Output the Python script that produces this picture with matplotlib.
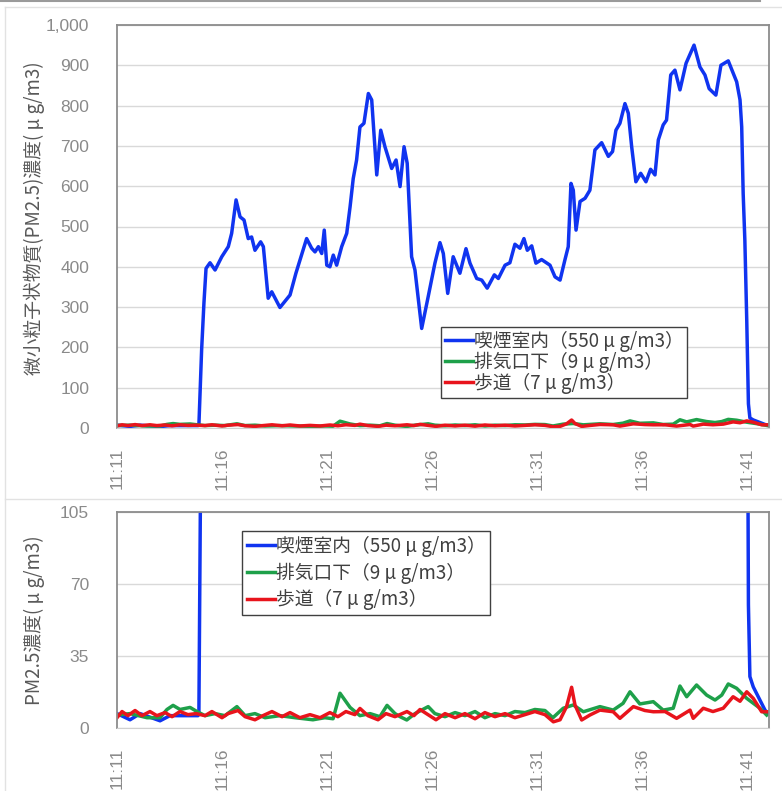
import matplotlib
matplotlib.use('Agg')
import matplotlib.pyplot as plt
from matplotlib.ticker import FuncFormatter
from matplotlib.lines import Line2D

plt.rcParams['font.family'] = ['Noto Sans CJK JP', 'DejaVu Sans']

# 経過時間(分, 11:11起点) と PM2.5濃度(μg/m3)
t_room = [0.00, 0.62, 1.10, 2.05, 2.52, 3.24, 3.86, 3.90, 4.03, 4.14, 4.24, 4.43, 4.67, 4.99,
          5.30, 5.46, 5.67, 5.86, 6.05, 6.25, 6.41, 6.57, 6.84, 6.97, 7.20, 7.37, 7.76, 8.24,
          8.52, 9.03, 9.27, 9.43, 9.59, 9.75, 9.87, 9.99, 10.14, 10.30, 10.46, 10.70, 10.94,
          11.10, 11.25, 11.41, 11.57, 11.76, 11.97, 12.13, 12.37, 12.56, 12.76, 13.08, 13.29,
          13.48, 13.67, 13.82, 14.03, 14.19, 14.51, 14.82, 15.14, 15.38, 15.54, 15.75, 16.01,
          16.33, 16.62, 16.81, 17.13, 17.37, 17.63, 17.97, 18.16, 18.48, 18.71, 18.95, 19.19,
          19.38, 19.54, 19.75, 19.95, 20.22, 20.62, 20.86, 21.10, 21.33, 21.49, 21.62, 21.73,
          21.86, 22.05, 22.29, 22.52, 22.76, 23.08, 23.40, 23.60, 23.76, 23.95, 24.19, 24.35,
          24.51, 24.71, 24.94, 25.19, 25.41, 25.62, 25.78, 26.01, 26.17, 26.37, 26.57, 26.81,
          27.10, 27.48, 27.76, 28.00, 28.20, 28.52, 28.76, 29.11, 29.51, 29.67, 29.75, 29.82,
          29.90, 29.99, 30.07, 30.14, 30.30, 30.62, 30.86, 31.00]
pm_room = [7, 4, 7, 3.5, 6, 6, 6, 7, 194, 310, 396, 410, 392, 425,
           450, 483, 566, 524, 516, 470, 474, 441, 462, 450, 322, 338, 299, 330,
           384, 470, 446, 437, 450, 433, 491, 404, 400, 429, 404, 450, 483,
           549, 619, 665, 747, 756, 830, 814, 628, 739, 698, 644, 665,
           599, 698, 657, 425, 392, 247, 326, 409, 460, 433, 334, 425,
           384, 445, 409, 371, 367, 347, 380, 371, 404, 410, 456, 446,
           470, 441, 452, 409, 418, 404, 375, 367, 417, 450, 607, 590,
           491, 562, 570, 590, 690, 708, 674, 686, 739, 756, 805, 781,
           698, 611, 632, 611, 642, 628, 715, 752, 764, 876, 888, 839,
           905, 950, 896, 876, 842, 826, 900, 911, 859, 814, 747, 582,
           466, 268, 60, 25, 20, 13.6, 8.7, 7]

t_vent = [0.00, 0.62, 1.43, 2.05, 2.38, 2.67, 3.00, 3.48, 3.81, 4.19, 4.67, 5.14, 5.71, 6.10,
          6.57, 7.05, 7.76, 8.48, 9.33, 9.90, 10.29, 10.62, 11.10, 11.57, 12.05, 12.52, 12.86,
          13.24, 13.48, 13.80, 14.19, 14.82, 15.14, 15.62, 16.10, 16.57, 17.05, 17.52, 18.00,
          18.48, 18.95, 19.43, 19.90, 20.38, 20.76, 21.25, 21.73, 22.21, 23.00, 23.63, 24.10,
          24.43, 24.90, 25.54, 26.01, 26.49, 26.81, 27.13, 27.60, 28.08, 28.48, 28.80, 29.11,
          29.51, 29.99, 30.62, 30.94]
pm_vent = [6.3, 7, 5, 5, 9, 11, 9, 10, 8, 6, 7, 6, 10.4, 6,
           7, 5, 6, 5, 4, 5, 4.5, 16.9, 10, 6, 7, 5.5, 11,
           7, 5.5, 3.9, 7, 10.4, 7, 5.5, 7.5, 6, 8, 5, 7,
           6, 8, 7.5, 9, 8.5, 5, 9.6, 11.2, 7.9, 10.4, 8.7, 12,
           17.6, 11.7, 12.8, 8.7, 9.6, 20.4, 15.2, 20.9, 16, 13.6, 16, 21.4,
           19.3, 14.4, 9.6, 6.3]

t_walk = [0.00, 0.24, 0.52, 0.86, 1.19, 1.57, 1.90, 2.29, 2.62, 3.00, 3.38, 3.76, 4.19, 4.52,
          5.00, 5.29, 5.76, 6.10, 6.57, 6.95, 7.38, 7.86, 8.24, 8.71, 9.19, 9.67, 10.14, 10.52,
          10.90, 11.33, 11.57, 11.95, 12.43, 12.81, 13.24, 13.81, 14.14, 14.43, 14.81, 15.19,
          15.62, 16.10, 16.57, 17.05, 17.52, 18.00, 18.48, 18.95, 19.43, 19.90, 20.38, 20.78,
          21.10, 21.41, 21.65, 21.81, 22.13, 22.52, 23.00, 23.63, 23.95, 24.59, 25.14, 25.54,
          26.10, 26.65, 27.29, 27.44, 27.92, 28.38, 28.87, 29.34, 29.67, 29.99, 30.30, 30.70, 31.00]
pm_walk = [5, 8, 6, 8.5, 6, 8, 6, 7.5, 5.5, 8, 6.5, 7, 6, 8,
           5, 7, 8.5, 5.5, 4, 6, 8, 5.5, 7.5, 5, 6.5, 5, 7.5, 5.5,
           8, 6.5, 9.5, 6, 4, 7, 5.5, 8, 6, 9, 6.5, 4,
           7, 5, 7, 4.5, 7.5, 5.5, 7, 5, 6.5, 8, 6.5, 3,
           4, 10.4, 19.8, 11.2, 3.9, 6.3, 8.7, 7.9, 4.7, 10.4, 8.5, 7.9,
           8, 4.7, 8.7, 4.7, 9.6, 8, 9.6, 15.2, 13, 17.6, 14.4, 7.9, 7.9]

labels = ['喫煙室内（550 μ g/m3）', '排気口下（9 μ g/m3）', '歩道（7 μ g/m3）']
colors = ['#1034f0', '#1ea04a', '#e8141c']
tick_min = [0, 5, 10, 15, 20, 25, 30]
tick_lab = ['11:11', '11:16', '11:21', '11:26', '11:31', '11:36', '11:41']

W, H = 782, 791
fig = plt.figure(figsize=(W / 100, H / 100), dpi=100)

# 枠線
for seg in [((0, 760), (H - 1, H - 1), '#9a9a9a', 1.5),
            ((5, 782), (H - 7, H - 7), '#e2e2e2', 1.0),
            ((5, 782), (H - 499, H - 499), '#e2e2e2', 1.0),
            ((5, 5), (0, H - 7), '#e2e2e2', 1.0)]:
    fig.add_artist(Line2D([seg[0][0] / W, seg[0][1] / W], [seg[1][0] / H, seg[1][1] / H],
                          color=seg[2], lw=seg[3]))


def setup(ax, ylim, yticks, ylabel):
    for x, y, c in zip([t_room, t_vent, t_walk], [pm_room, pm_vent, pm_walk], colors):
        ax.plot(x, y, color=c, lw=2.5, solid_joinstyle='round')
    ax.set_xlim(0, 31.05)
    ax.set_ylim(*ylim)
    ax.set_yticks(yticks)
    ax.set_xticks(tick_min)
    ax.set_xticklabels(tick_lab, rotation=90)
    ax.grid(axis='y', color='#d9d9d9', lw=1.0)
    ax.set_axisbelow(True)
    ax.tick_params(length=0, colors='#8a8a8a', labelsize=12.5)
    ax.tick_params(axis='y', pad=20)
    ax.tick_params(axis='x', pad=14)
    for lab in ax.get_xticklabels() + ax.get_yticklabels():
        lab.set_family('Liberation Sans')
    for s in ['left', 'top', 'right']:
        ax.spines[s].set_color('#8c8c8c')
        ax.spines[s].set_linewidth(1.3)
    ax.spines['bottom'].set_color('#d0d0d0')
    ax.set_ylabel(ylabel, fontsize=13.5, color='#595959')
    ax.yaxis.set_label_coords(-72 / 652, 0.5)


ax1 = fig.add_axes([117 / W, (H - 428) / H, 652 / W, 403 / H])
setup(ax1, (0, 1000), range(0, 1001, 100), '微小粒子状物質(PM2.5)濃度( μ g/m3)')
ax1.yaxis.set_major_formatter(FuncFormatter(lambda v, p: f'{int(v):,}'))
ax1.yaxis.set_label_coords(-72 / 652, 0.52)

ax2 = fig.add_axes([117 / W, (H - 728) / H, 652 / W, 216 / H])
setup(ax2, (0, 105), [0, 35, 70, 105], 'PM2.5濃度( μ g/m3)')

handles = [Line2D([], [], color=c, lw=2.5) for c in colors]
leg1 = ax1.legend(handles, labels, loc='upper left', bbox_to_anchor=(0.497, 0.251),
                  fontsize=13.5, frameon=True, fancybox=False, edgecolor='#404040',
                  handlelength=1.5, handletextpad=0.05, labelspacing=0.0, borderpad=0.2,
                  borderaxespad=0)
leg2 = ax2.legend(handles, labels, loc='upper left', bbox_to_anchor=(0.192, 0.912),
                  fontsize=13.5, frameon=True, fancybox=False, edgecolor='#404040',
                  handlelength=1.5, handletextpad=0.05, labelspacing=0.3, borderpad=0.25,
                  borderaxespad=0)
for leg in (leg1, leg2):
    leg.get_frame().set_linewidth(1.0)
    leg.get_frame().set_alpha(1)
    for txt in leg.get_texts():
        txt.set_color('#404040')

fig.savefig('out.png', dpi=100, facecolor='white')
